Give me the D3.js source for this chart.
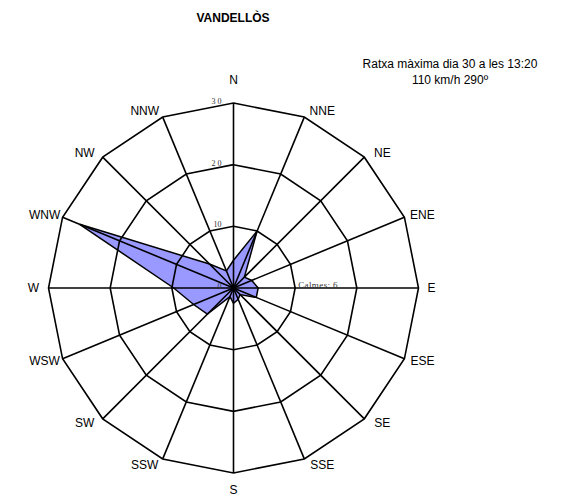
<!DOCTYPE html>
<html>
<head>
<meta charset="utf-8">
<script src="https://cdn.jsdelivr.net/npm/d3@7"></script>
<style>
body { margin: 0; background: #fff; }
svg { display: block; }
</style>
</head>
<body>
<div id="rose"></div>
<script>
var dirs = ["N","NNE","NE","ENE","E","ESE","SE","SSE","S","SSW","SW","WSW","W","WNW","NW","NNW"];
var freq = [4.5, 10, 2.5, 3.2, 4, 4, 1.5, 2, 2.5, 1.5, 6, 7, 9.7, 27, 5.5, 3];	// % per direction
var rings = [10, 20, 30];
var ringLabels = ["10", "2 0", "3 0"];
var calmes = 6;
var title = "VANDELLÒS";
var gust = ["Ratxa màxima dia 30 a les 13:20", "110 km/h 290º"];

var W = 563, H = 496;
var cx = 233.5, cy = 288;

var svg = d3.select("#rose").append("svg")
	.attr("width", W)
	.attr("height", H);

var r = d3.scaleLinear([0, 30], [0, 185]);
var ang = d3.scaleLinear([0, dirs.length], [0, 2 * Math.PI]);

var g = svg.append("g").attr("transform", `translate(${cx},${cy})`);

function pt(i, v)	{
	var a = ang(i);
	return [Math.sin(a) * r(v), -Math.cos(a) * r(v)];
}

// label offset from the outer vertex
function lab(i)	{
	var a = ang(i), s = Math.sin(a), c = Math.cos(a);
	var p = pt(i, 30);
	if (Math.abs(s) < 0.1)		// N, S
		return [p[0], p[1] + (c > 0 ? -23 : 17)];
	if (Math.abs(c) < 0.1)		// E, W
		return [p[0] + (s > 0 ? 13 : -15), p[1]];
	return [p[0] + Math.sign(s) * 18, p[1] - c * 6.5];
}

// data polygon
g.append("path")
	.attr("d", d3.line().curve(d3.curveLinearClosed)(freq.map((v, i) => pt(i, v))))
	.attr("fill", "#9999ff")
	.attr("stroke", "#000")
	.attr("stroke-width", 1.5)
	.attr("stroke-linejoin", "miter");

// grid rings
g.selectAll(".ring")
	.data(rings)
	.join("path")
	.attr("class", "ring")
	.attr("d", v => d3.line().curve(d3.curveLinearClosed)(dirs.map((d, i) => pt(i, v))))
	.attr("fill", "none")
	.attr("stroke", "#000")
	.attr("stroke-width", 1.6);

// rays
g.selectAll(".ray")
	.data(dirs)
	.join("line")
	.attr("class", "ray")
	.attr("x1", 0).attr("y1", 0)
	.attr("x2", (d, i) => pt(i, 30)[0])
	.attr("y2", (d, i) => pt(i, 30)[1])
	.attr("stroke", "#000")
	.attr("stroke-width", 1.6);

// direction labels
g.selectAll(".dir")
	.data(dirs)
	.join("text")
	.attr("class", "dir")
	.attr("x", (d, i) => lab(i)[0])
	.attr("y", (d, i) => lab(i)[1])
	.attr("text-anchor", "middle")
	.attr("dominant-baseline", "central")
	.attr("font-family", "Liberation Sans, Arial, sans-serif")
	.attr("font-size", 12)
	.text(d => d);

// ring labels
g.selectAll(".rl")
	.data([0].concat(rings))
	.join("text")
	.attr("class", "rl")
	.attr("x", -12)
	.attr("y", v => -r(v) + 1)
	.attr("text-anchor", "end")
	.attr("font-family", "Liberation Serif, Times New Roman, serif")
	.attr("font-size", 8)
	.attr("fill", "#333")
	.text((v, i) => i === 0 ? "0" : ringLabels[i - 1]);

g.append("text")
	.attr("x", r(10) + 3)
	.attr("y", 0)
	.attr("font-family", "Liberation Serif, Times New Roman, serif")
	.attr("font-size", 9)
	.attr("fill", "#333")
	.attr("letter-spacing", 0.4)
	.text("Calmes: " + calmes);

// titles
svg.append("text")
	.attr("x", 233)
	.attr("y", 22)
	.attr("text-anchor", "middle")
	.attr("font-family", "Liberation Sans, Arial, sans-serif")
	.attr("font-size", 12)
	.attr("font-weight", "bold")
	.text(title);

svg.selectAll(".gust")
	.data(gust)
	.join("text")
	.attr("class", "gust")
	.attr("x", 450)
	.attr("y", (d, i) => 68 + i * 16)
	.attr("text-anchor", "middle")
	.attr("font-family", "Liberation Sans, Arial, sans-serif")
	.attr("font-size", 12)
	.text(d => d);
</script>
</body>
</html>
